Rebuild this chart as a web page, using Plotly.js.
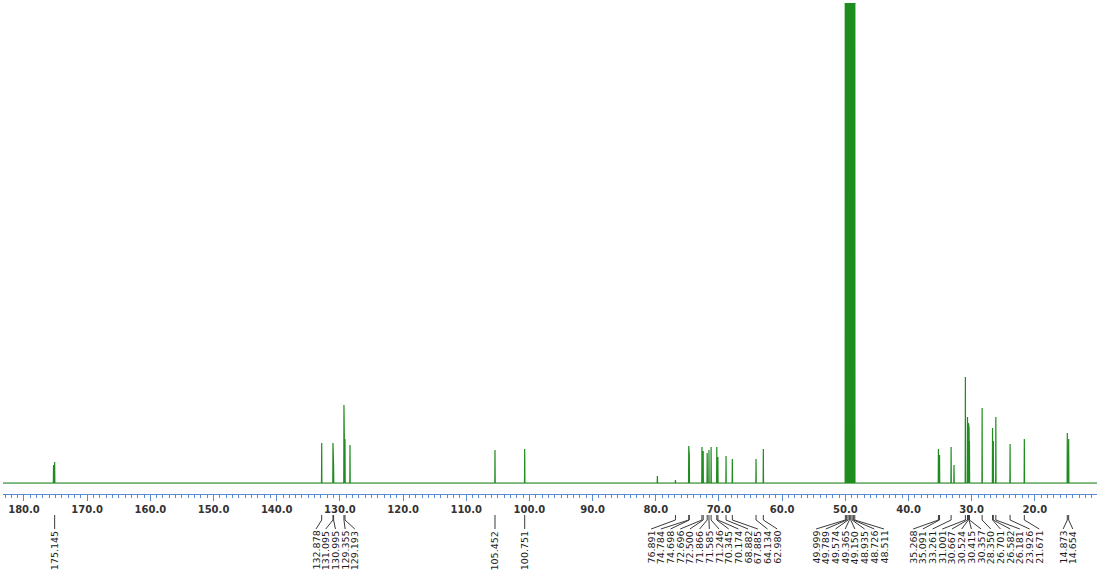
<!DOCTYPE html>
<html>
<head>
<meta charset="utf-8">
<script src="https://cdn.plot.ly/plotly-3.0.1.min.js"></script>
<style>html,body{margin:0;padding:0;background:#fff;}#chart{width:1097px;height:584px;}</style>
</head>
<body>
<div id="chart"></div>
<script>
// ---- Data (chemical shift in ppm, intensity in arbitrary units) ----
const peakPpm = [
  175.320, 175.145,
  132.878, 131.095, 130.995, 129.355, 129.193, 128.400,
  105.452, 100.751,
  79.750, 76.891, 74.784, 74.698, 72.696, 72.500, 71.866, 71.585, 71.246,
  70.345, 70.174, 68.882, 67.885, 64.134, 62.980,
  49.999, 49.789, 49.574, 49.365, 49.150, 48.935, 48.726, 48.511,
  35.268, 35.091, 33.261, 32.800, 31.001, 30.667, 30.524, 30.415, 30.357,
  28.350, 26.701, 26.582, 26.181, 23.926, 21.671,
  14.873, 14.654
];
const peakHeight = [
  18, 21,
  40, 40, 17, 78, 44, 38,
  33, 34,
  7, 3, 37, 28, 36, 32, 30, 33, 36,
  36, 26, 27, 24, 24, 34,
  900, 3000, 6000, 8000, 8000, 6000, 3000, 900,
  34, 28, 36, 18, 106, 66, 60, 55, 42,
  75, 55, 42, 66, 39, 44,
  50, 44
];
const labelPpm = [
  175.145,
  132.878, 131.095, 130.995, 129.355, 129.193,
  105.452, 100.751,
  76.891, 74.784, 74.698, 72.696, 72.500, 71.866, 71.585, 71.246,
  70.345, 70.174, 68.882, 67.885, 64.134, 62.980,
  49.999, 49.789, 49.574, 49.365, 49.150, 48.935, 48.726, 48.511,
  35.268, 35.091, 33.261, 31.001, 30.667, 30.524, 30.415, 30.357,
  28.350, 26.701, 26.582, 26.181, 23.926, 21.671,
  14.873, 14.654
];
const labelText = labelPpm.map(v => v.toFixed(3));

// ---- Layout constants ----
const W = 1097, H = 584;
const M = {l: 3, r: 0, t: 3, b: 90};
const plotW = W - M.l - M.r, plotH = H - M.t - M.b;
const xRange = [183.32, 10.17];
const yRange = [-11, 480];

const ppmToPx = p => M.l + (p - xRange[0]) * plotW / (xRange[1] - xRange[0]);
const pxToPpm = px => xRange[0] + (px - M.l) * (xRange[1] - xRange[0]) / plotW;
const pyToPaper = py => (H - M.b - py) / plotH;

// ---- Build the spectrum line from the peak list ----
const order = peakPpm.map((p, i) => i).sort((a, b) => peakPpm[b] - peakPpm[a]);
const hw = 0.03;
const sx = [xRange[0]], sy = [0];
order.forEach(i => {
  sx.push(peakPpm[i] + hw, peakPpm[i], peakPpm[i] - hw);
  sy.push(0, peakHeight[i], 0);
});
sx.push(xRange[1]); sy.push(0);

// ---- Spread peak labels ----
function spread(pxs, S) {
  let groups = pxs.map((p, i) => ({idx: [i], c: p}));
  let merged = true;
  while (merged) {
    merged = false;
    for (let k = 0; k < groups.length - 1; k++) {
      const a = groups[k], b = groups[k + 1];
      const aEnd = a.c + (a.idx.length - 1) * S / 2;
      const bStart = b.c - (b.idx.length - 1) * S / 2;
      if (bStart - aEnd < S) {
        const idx = a.idx.concat(b.idx);
        const c = idx.reduce((s, i) => s + pxs[i], 0) / idx.length;
        groups.splice(k, 2, {idx, c});
        merged = true; break;
      }
    }
  }
  const out = [];
  groups.forEach(g => g.idx.forEach((i, j) => { out[i] = g.c + (j - (g.idx.length - 1) / 2) * S; }));
  return out;
}
const peakPx = labelPpm.map(ppmToPx);
const labPx = spread(peakPx, 9.7);

const shapes = [], annotations = [];
const leadColor = '#3a3a3a';
labelPpm.forEach((p, i) => {
  const lx = pxToPpm(labPx[i]);
  shapes.push({type: 'line', xref: 'x', yref: 'paper', x0: p, x1: p,
    y0: pyToPaper(515), y1: pyToPaper(520), line: {color: leadColor, width: 1}});
  shapes.push({type: 'line', xref: 'x', yref: 'paper', x0: p, x1: lx,
    y0: pyToPaper(520), y1: pyToPaper(529), line: {color: leadColor, width: 1}});
  annotations.push({xref: 'x', yref: 'paper', x: lx, y: pyToPaper(530),
    text: labelText[i], textangle: -90, showarrow: false,
    xanchor: 'center', yanchor: 'top', borderpad: 0,
    font: {family: 'DejaVu Sans', size: 9.5, color: '#1a1a1a'}});
});

const axisBlue = '#5a8ad0';
const trace = {
  x: sx, y: sy, type: 'scatter', mode: 'lines',
  line: {color: '#1f8c1f', width: 1.2}, hoverinfo: 'skip'
};
const layout = {
  width: W, height: H,
  margin: M,
  paper_bgcolor: '#ffffff', plot_bgcolor: '#ffffff',
  showlegend: false,
  xaxis: {
    range: xRange, autorange: false,
    showgrid: false, zeroline: false,
    showline: true, linecolor: axisBlue, linewidth: 1,
    ticks: 'outside', ticklen: 6, tickcolor: axisBlue, tickwidth: 1,
    tick0: 0, dtick: 10, tickformat: '.1f',
    minor: {dtick: 1, ticks: 'outside', ticklen: 3, tickcolor: axisBlue, showgrid: false},
    tickfont: {family: 'DejaVu Sans', size: 10, color: '#333333', weight: 'bold'}
  },
  yaxis: {
    range: yRange, autorange: false,
    showgrid: false, showticklabels: false, ticks: '', showline: false,
    zeroline: true, zerolinecolor: '#d4d4d4', zerolinewidth: 1
  },
  shapes: shapes,
  annotations: annotations
};
Plotly.newPlot('chart', [trace], layout, {displayModeBar: false, staticPlot: true});
</script>
</body>
</html>
